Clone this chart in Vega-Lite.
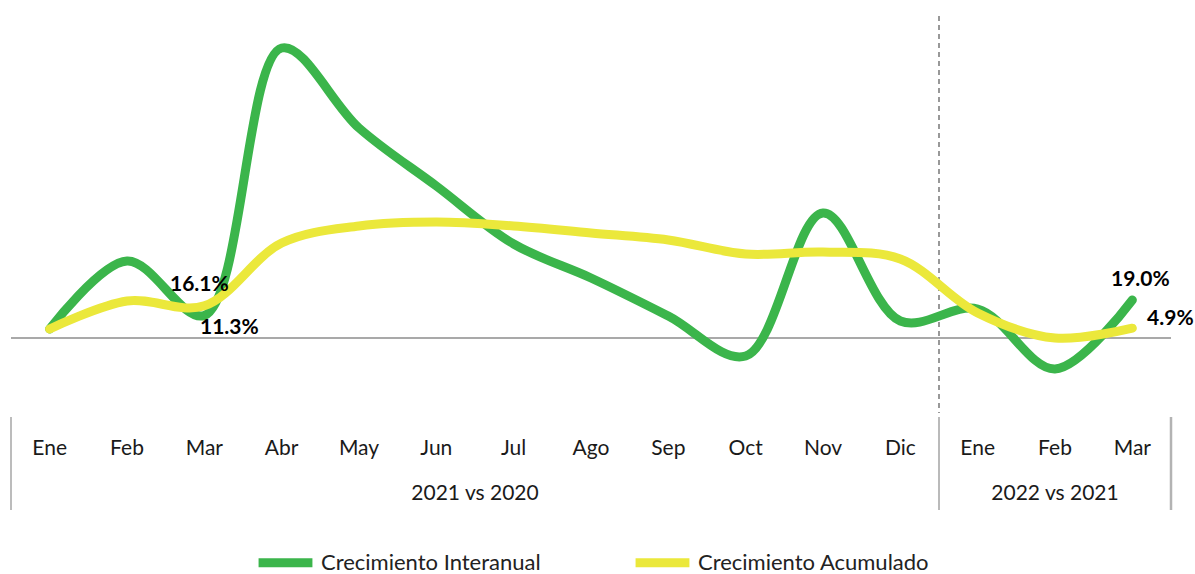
{
  "$schema": "https://vega.github.io/schema/vega-lite/v6.json",
  "padding": {"left": 10, "top": 15, "right": 0, "bottom": 0},
  "background": "white",
  "spacing": 1,
  "config": {
    "view": {"stroke": null},
    "font": "Lato",
    "legend": {
      "orient": "none",
      "legendX": 243,
      "legendY": 515,
      "direction": "horizontal",
      "title": null,
      "symbolType": "stroke",
      "symbolStrokeWidth": 9,
      "symbolSize": 2900,
      "labelFontSize": 22,
      "labelColor": "#222222",
      "labelFont": "Lato",
      "labelOffset": 4,
      "columnPadding": 76,
      "labelLimit": 400
    }
  },
  "datasets": {
    "series": [
      {"i": 0, "series": "Crecimiento Interanual", "value": 4.5, "label": ""},
      {"i": 1, "series": "Crecimiento Interanual", "value": 38.5, "label": ""},
      {"i": 2, "series": "Crecimiento Interanual", "value": 11.3, "label": "11.3%"},
      {"i": 3, "series": "Crecimiento Interanual", "value": 145, "label": ""},
      {"i": 4, "series": "Crecimiento Interanual", "value": 105, "label": ""},
      {"i": 5, "series": "Crecimiento Interanual", "value": 76, "label": ""},
      {"i": 6, "series": "Crecimiento Interanual", "value": 47, "label": ""},
      {"i": 7, "series": "Crecimiento Interanual", "value": 30, "label": ""},
      {"i": 8, "series": "Crecimiento Interanual", "value": 11, "label": ""},
      {"i": 9, "series": "Crecimiento Interanual", "value": -9, "label": ""},
      {"i": 10, "series": "Crecimiento Interanual", "value": 62.5, "label": ""},
      {"i": 11, "series": "Crecimiento Interanual", "value": 8.5, "label": ""},
      {"i": 12, "series": "Crecimiento Interanual", "value": 14.5, "label": ""},
      {"i": 13, "series": "Crecimiento Interanual", "value": -15.5, "label": ""},
      {"i": 14, "series": "Crecimiento Interanual", "value": 19.0, "label": "19.0%"},
      {"i": 0, "series": "Crecimiento Acumulado", "value": 4.5, "label": ""},
      {"i": 1, "series": "Crecimiento Acumulado", "value": 18.5, "label": ""},
      {"i": 2, "series": "Crecimiento Acumulado", "value": 16.1, "label": "16.1%"},
      {"i": 3, "series": "Crecimiento Acumulado", "value": 47.5, "label": ""},
      {"i": 4, "series": "Crecimiento Acumulado", "value": 56, "label": ""},
      {"i": 5, "series": "Crecimiento Acumulado", "value": 58, "label": ""},
      {"i": 6, "series": "Crecimiento Acumulado", "value": 56, "label": ""},
      {"i": 7, "series": "Crecimiento Acumulado", "value": 52.5, "label": ""},
      {"i": 8, "series": "Crecimiento Acumulado", "value": 49, "label": ""},
      {"i": 9, "series": "Crecimiento Acumulado", "value": 42, "label": ""},
      {"i": 10, "series": "Crecimiento Acumulado", "value": 43, "label": ""},
      {"i": 11, "series": "Crecimiento Acumulado", "value": 39.5, "label": ""},
      {"i": 12, "series": "Crecimiento Acumulado", "value": 12.5, "label": ""},
      {"i": 13, "series": "Crecimiento Acumulado", "value": 0, "label": ""},
      {"i": 14, "series": "Crecimiento Acumulado", "value": 4.9, "label": "4.9%"}
    ],
    "months": [
      {"i": 0, "month": "Ene", "group": "2021 vs 2020"},
      {"i": 1, "month": "Feb", "group": "2021 vs 2020"},
      {"i": 2, "month": "Mar", "group": "2021 vs 2020"},
      {"i": 3, "month": "Abr", "group": "2021 vs 2020"},
      {"i": 4, "month": "May", "group": "2021 vs 2020"},
      {"i": 5, "month": "Jun", "group": "2021 vs 2020"},
      {"i": 6, "month": "Jul", "group": "2021 vs 2020"},
      {"i": 7, "month": "Ago", "group": "2021 vs 2020"},
      {"i": 8, "month": "Sep", "group": "2021 vs 2020"},
      {"i": 9, "month": "Oct", "group": "2021 vs 2020"},
      {"i": 10, "month": "Nov", "group": "2021 vs 2020"},
      {"i": 11, "month": "Dic", "group": "2021 vs 2020"},
      {"i": 12, "month": "Ene", "group": "2022 vs 2021"},
      {"i": 13, "month": "Feb", "group": "2022 vs 2021"},
      {"i": 14, "month": "Mar", "group": "2022 vs 2021"}
    ]
  },
  "vconcat": [
    {
      "width": 1160,
      "height": 397,
      "layer": [
        {
          "data": {"values": [{}]},
          "mark": {"type": "rule", "color": "#8c8c8c", "strokeWidth": 1.5},
          "encoding": {
            "y": {"datum": 0, "type": "quantitative", "scale": {"domain": [-37.5, 161], "nice": false, "zero": false}, "axis": null}
          }
        },
        {
          "data": {"values": [{}]},
          "mark": {"type": "rule", "color": "#555555", "strokeWidth": 1.2, "strokeDash": [5, 4]},
          "encoding": {
            "x": {"datum": 11.5, "type": "quantitative", "scale": {"domain": [-0.5, 14.5], "nice": false, "zero": false}, "axis": null}
          }
        },
        {
          "data": {"name": "series"},
          "transform": [{"filter": "datum.series === 'Crecimiento Interanual'"}],
          "mark": {"type": "line", "interpolate": "catmull-rom", "strokeWidth": 9, "strokeCap": "round", "strokeJoin": "round"},
          "encoding": {
            "x": {"field": "i", "type": "quantitative", "scale": {"domain": [-0.5, 14.5], "nice": false, "zero": false}, "axis": null},
            "y": {"field": "value", "type": "quantitative", "scale": {"domain": [-37.5, 161], "nice": false, "zero": false}, "axis": null},
            "color": {"field": "series", "type": "nominal", "scale": {"domain": ["Crecimiento Interanual", "Crecimiento Acumulado"], "range": ["#3bb54b", "#ebe83b"]}}
          }
        },
        {
          "data": {"name": "series"},
          "transform": [{"filter": "datum.series === 'Crecimiento Acumulado'"}],
          "mark": {"type": "line", "interpolate": "catmull-rom", "strokeWidth": 9, "strokeCap": "round", "strokeJoin": "round"},
          "encoding": {
            "x": {"field": "i", "type": "quantitative"},
            "y": {"field": "value", "type": "quantitative"},
            "color": {"field": "series", "type": "nominal"}
          }
        },
        {
          "data": {"name": "series"},
          "transform": [{"filter": "datum.label === '16.1%'"}],
          "mark": {"type": "text", "fontSize": 21, "fontWeight": "bold", "color": "#000000", "dx": -5, "dy": -21},
          "encoding": {"x": {"field": "i", "type": "quantitative"}, "y": {"field": "value", "type": "quantitative"}, "text": {"field": "label"}}
        },
        {
          "data": {"name": "series"},
          "transform": [{"filter": "datum.label === '11.3%'"}],
          "mark": {"type": "text", "fontSize": 21, "fontWeight": "bold", "color": "#000000", "dx": 25, "dy": 13},
          "encoding": {"x": {"field": "i", "type": "quantitative"}, "y": {"field": "value", "type": "quantitative"}, "text": {"field": "label"}}
        },
        {
          "data": {"name": "series"},
          "transform": [{"filter": "datum.label === '19.0%'"}],
          "mark": {"type": "text", "fontSize": 21, "fontWeight": "bold", "color": "#000000", "dx": 8, "dy": -20},
          "encoding": {"x": {"field": "i", "type": "quantitative"}, "y": {"field": "value", "type": "quantitative"}, "text": {"field": "label"}}
        },
        {
          "data": {"name": "series"},
          "transform": [{"filter": "datum.label === '4.9%'"}],
          "mark": {"type": "text", "fontSize": 21, "fontWeight": "bold", "color": "#000000", "dx": 38, "dy": -9},
          "encoding": {"x": {"field": "i", "type": "quantitative"}, "y": {"field": "value", "type": "quantitative"}, "text": {"field": "label"}}
        }
      ]
    },
    {
      "width": 1160,
      "height": 93,
      "layer": [
        {
          "data": {"values": [{}]},
          "mark": {"type": "rule", "color": "#a6a6a6", "strokeWidth": 1.5},
          "encoding": {"x": {"datum": -0.5, "type": "quantitative", "scale": {"domain": [-0.5, 14.5], "nice": false, "zero": false}, "axis": null}}
        },
        {
          "data": {"values": [{}]},
          "mark": {"type": "rule", "color": "#8c8c8c", "strokeWidth": 1.2},
          "encoding": {"x": {"datum": 11.5, "type": "quantitative"}}
        },
        {
          "data": {"values": [{}]},
          "mark": {"type": "rule", "color": "#b3b3b3", "strokeWidth": 2.5},
          "encoding": {"x": {"datum": 14.5, "type": "quantitative"}}
        },
        {
          "data": {"name": "months"},
          "mark": {"type": "text", "fontSize": 21, "color": "#1a1a1a"},
          "encoding": {
            "x": {"field": "i", "type": "quantitative"},
            "y": {"datum": "Mes", "type": "ordinal", "scale": {"type": "point", "domain": ["Mes", "Grupo"], "range": [32, 77], "padding": 0}, "axis": null},
            "text": {"field": "month"}
          }
        },
        {
          "data": {"name": "months"},
          "transform": [{"aggregate": [{"op": "mean", "field": "i", "as": "center"}], "groupby": ["group"]}],
          "mark": {"type": "text", "fontSize": 21, "color": "#1a1a1a"},
          "encoding": {
            "x": {"field": "center", "type": "quantitative"},
            "y": {"datum": "Grupo", "type": "ordinal"},
            "text": {"field": "group"}
          }
        }
      ]
    }
  ]
}
